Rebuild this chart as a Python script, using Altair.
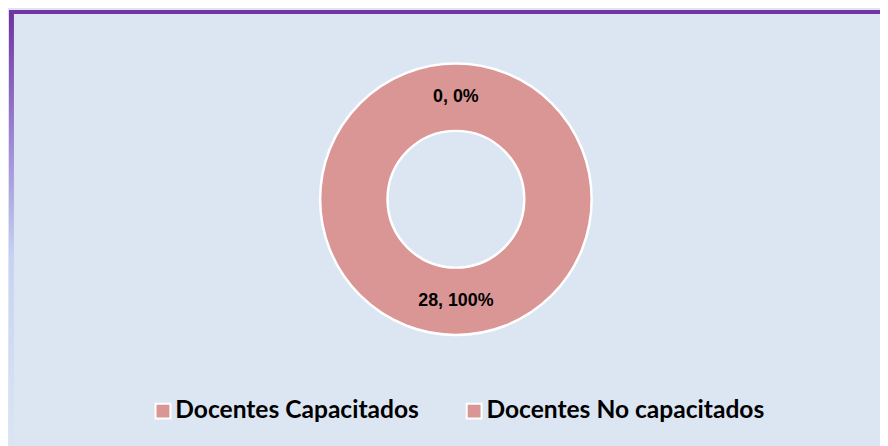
import altair as alt
import pandas as pd

categories = ["Docentes Capacitados", "Docentes No capacitados"]
values = [0, 28]

df = pd.DataFrame({"cat": categories, "value": values})

W, H = 880, 438
CX, CY = 452, 191
PINK = "#D99694"
BG = "#DCE6F2"

color_scale = alt.Scale(domain=categories, range=[PINK, PINK])

base = alt.Chart(df).transform_joinaggregate(
    total="sum(value)"
).transform_calculate(
    label="datum.value + ', ' + format(datum.value / datum.total, '.0%')"
)

arcs = base.mark_arc(innerRadius=69, outerRadius=137, stroke="white").encode(
    theta=alt.Theta("value:Q", stack=True),
    color=alt.Color(
        "cat:N",
        scale=color_scale,
        sort=categories,
        legend=alt.Legend(
            title=None,
            orient="none",
            legendX=144,
            legendY=392,
            direction="horizontal",
            symbolType="square",
            symbolSize=225,
            symbolStrokeColor="white",
            symbolStrokeWidth=2,
            symbolOpacity=1,
            labelFont="Lato",
            labelFontWeight="bold",
            labelFontSize=24.8,
            labelColor="black",
            labelOffset=0,
            columnPadding=43,
            labelLimit=400,
        ),
    ),
    order=alt.Order("cat:N", sort="ascending"),
    strokeWidth=alt.condition("datum.value > 0", alt.value(2.5), alt.value(0)),
    x=alt.value(CX),
    y=alt.value(CY),
)

labels = base.mark_text(
    radius=103, font="Liberation Sans", fontWeight="bold", fontSize=18, color="black"
).encode(
    theta=alt.Theta("value:Q", stack=True),
    order=alt.Order("cat:N", sort="ascending"),
    text="label:N",
    x=alt.value(CX),
    y=alt.value(CY),
)

left_border = alt.Chart(pd.DataFrame({"a": [0]})).mark_rect(
    color=alt.Gradient(
        gradient="linear",
        stops=[
            alt.GradientStop(color="#7030A0", offset=0),
            alt.GradientStop(color="#A38ED8", offset=0.33),
            alt.GradientStop(color="#C6D2F2", offset=0.57),
            alt.GradientStop(color="#D4DFF3", offset=0.85),
            alt.GradientStop(color="#DAE4F2", offset=1),
        ],
        x1=0, y1=0, x2=0, y2=1,
    )
).encode(x=alt.value(1), x2=alt.value(6), y=alt.value(0), y2=alt.value(H))

top_border = alt.Chart(pd.DataFrame({"a": [0]})).mark_rect(color="#7434A4").encode(
    x=alt.value(1), x2=alt.value(W), y=alt.value(0), y2=alt.value(4)
)

chart = alt.layer(arcs, labels, left_border, top_border).properties(
    width=W,
    height=H,
    background=BG,
    padding=0,
    autosize=alt.AutoSizeParams(type="none"),
).configure_view(stroke=None)

chart.save("out.html", embed_options={"renderer": "svg", "actions": False})
